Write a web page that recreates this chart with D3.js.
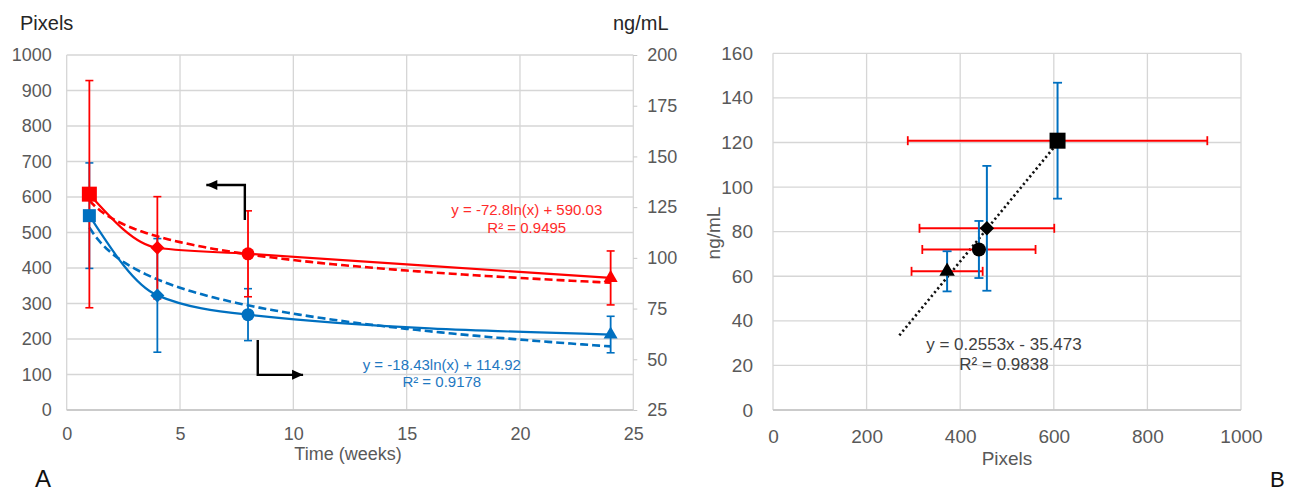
<!DOCTYPE html>
<html>
<head>
<meta charset="utf-8">
<script src="https://cdn.jsdelivr.net/npm/d3@7/dist/d3.min.js"></script>
<style>
  html, body { margin: 0; padding: 0; background: #fff; }
  svg { display: block; font-family: "Liberation Sans", Arial, sans-serif; }
</style>
</head>
<body>
<svg id="chart" width="1293" height="494"></svg>
<script>
// ---------------- DATA ----------------
const weeks = [1, 4, 8, 24];
const pixelsMean = [608, 457, 440, 372];
const pixelsSD = [320, 144, 121, 76];
const ngMean = [120.8, 81.5, 72, 62.2];
const ngSD = [26, 28, 12.8, 9];
const markerShapes = ["square", "diamond", "circle", "triangle"];

const weekTicks = [0, 5, 10, 15, 20, 25];
const pixelTicksA = [0, 100, 200, 300, 400, 500, 600, 700, 800, 900, 1000];
const ngTicksA = [25, 50, 75, 100, 125, 150, 175, 200];
const pixelTicksB = [0, 200, 400, 600, 800, 1000];
const ngTicksB = [0, 20, 40, 60, 80, 100, 120, 140, 160];

// trendline coefficients as printed on the chart
const pixelsLogFit = [-72.8, 590.03];   // y = a ln(x) + b (left axis)
const ngLogFit = [-18.43, 114.92];      // y = a ln(x) + b (right axis)
const linFit = [0.2553, -35.473];       // y = m x + c (panel B)
const linFitRange = [270, 608];

const labelsA = { left: "Pixels", right: "ng/mL", x: "Time (weeks)", panel: "A" };
const labelsB = { y: "ng/mL", x: "Pixels", panel: "B" };
const eqRed = ["y = -72.8ln(x) + 590.03", "R\u00b2 = 0.9495"];
const eqBlue = ["y = -18.43ln(x) + 114.92", "R\u00b2 = 0.9178"];
const eqB = ["y = 0.2553x - 35.473", "R\u00b2 = 0.9838"];

// ---------------- STYLE ----------------
const RED = "#ff0000", BLUE = "#0070c0";
const GRID = "#d6d6d6", TICKTXT = "#595959", TITLE = "#262626";
const fmt = d3.format("d");

const svg = d3.select("#chart");

function marker(g, shape, x, y, size, color) {
  let path, rot = 0;
  if (shape === "square") path = d3.symbol(d3.symbolSquare, size * size)();
  else if (shape === "diamond") { path = d3.symbol(d3.symbolSquare, (size / Math.SQRT2) ** 2)(); rot = 45; }
  else if (shape === "circle") path = d3.symbol(d3.symbolCircle, Math.PI * (size / 2) ** 2)();
  else path = d3.symbol(d3.symbolTriangle, Math.sqrt(3) / 4 * size * size)();
  g.append("path").attr("d", path)
    .attr("transform", `translate(${x},${y}) rotate(${rot})`)
    .attr("fill", color);
}

// ================= PANEL A =================
const xA = d3.scaleLinear([0, 25], [66.7, 633.3]);
const yA = d3.scaleLinear([0, 1000], [410, 55]);
const yA2 = d3.scaleLinear([25, 200], [410, 55]);
const gA = svg.append("g");

// gridlines
gA.append("g").selectAll("line").data(pixelTicksA).join("line")
  .attr("x1", xA(0)).attr("x2", xA(25))
  .attr("y1", d => yA(d)).attr("y2", d => yA(d))
  .attr("stroke", GRID).attr("stroke-width", 1.3);
gA.append("g").selectAll("line").data(weekTicks).join("line")
  .attr("x1", d => xA(d)).attr("x2", d => xA(d))
  .attr("y1", yA(0)).attr("y2", yA(1000))
  .attr("stroke", GRID).attr("stroke-width", 1.3);
gA.append("line").attr("x1", xA(0)).attr("x2", xA(25)).attr("y1", yA(0)).attr("y2", yA(0))
  .attr("stroke", "#c4c4c4").attr("stroke-width", 1.5);

// axes
const axL = d3.axisLeft(yA).tickValues(pixelTicksA).tickFormat(fmt).tickSize(0).tickPadding(15);
const axR = d3.axisRight(yA2).tickValues(ngTicksA).tickFormat(fmt).tickSize(4).tickPadding(10);
const axB = d3.axisBottom(xA).tickValues(weekTicks).tickFormat(fmt).tickSize(0).tickPadding(17);
function styleAxis(sel, fs) {
  sel.select(".domain").remove();
  sel.selectAll("text").attr("fill", TICKTXT).style("font-size", fs + "px")
    .style("font-family", '"Liberation Sans", Arial, sans-serif');
  sel.selectAll("line").attr("stroke", "#c8c8c8");
}
gA.append("g").attr("transform", `translate(${xA(0)},0)`).call(axL).call(styleAxis, 18);
gA.append("g").attr("transform", `translate(${xA(25)},0)`).call(axR).call(styleAxis, 18);
gA.append("g").attr("transform", `translate(0,${yA(0)})`).call(axB).call(styleAxis, 18);

// titles
gA.append("text").attr("x", 20).attr("y", 30).text(labelsA.left)
  .attr("fill", TITLE).style("font-size", "20px");
gA.append("text").attr("x", 613).attr("y", 30).text(labelsA.right)
  .attr("fill", TITLE).style("font-size", "20px");
gA.append("text").attr("x", (xA(0) + xA(25)) / 2 - 2).attr("y", 460).attr("text-anchor", "middle")
  .text(labelsA.x).attr("fill", TICKTXT).style("font-size", "18px");
gA.append("text").attr("x", 35).attr("y", 487).text(labelsA.panel)
  .attr("fill", "#111").style("font-size", "24px");

// trend (dashed) lines
const tSamples = d3.range(1, 24.001, 0.25);
gA.append("path")
  .attr("d", d3.line().x(t => xA(t)).y(t => yA(pixelsLogFit[0] * Math.log(t) + pixelsLogFit[1]))(tSamples))
  .attr("fill", "none").attr("stroke", RED).attr("stroke-width", 2.6).attr("stroke-dasharray", "8,4");
gA.append("path")
  .attr("d", d3.line().x(t => xA(t)).y(t => yA2(ngLogFit[0] * Math.log(t) + ngLogFit[1]))(tSamples))
  .attr("fill", "none").attr("stroke", BLUE).attr("stroke-width", 2.6).attr("stroke-dasharray", "8,4");

const seriesA = [
  { means: pixelsMean, sds: pixelsSD, scale: yA, color: RED, sizes: [15, 14, 13, 14] },
  { means: ngMean, sds: ngSD, scale: yA2, color: BLUE, sizes: [13, 14, 13, 14] }
];
const gErr = gA.append("g"), gLines = gA.append("g"), gMarks = gA.append("g");
// blue drawn first, red on top (as in the reference)
seriesA.slice().reverse().forEach(s => {
  weeks.forEach((w, i) => {
    const x = xA(w), y1 = s.scale(s.means[i] + s.sds[i]), y2 = s.scale(s.means[i] - s.sds[i]);
    gErr.append("line").attr("x1", x).attr("x2", x).attr("y1", y1).attr("y2", y2)
      .attr("stroke", s.color).attr("stroke-width", 1.8);
    [y1, y2].forEach(yy => gErr.append("line").attr("x1", x - 4).attr("x2", x + 4).attr("y1", yy).attr("y2", yy)
      .attr("stroke", s.color).attr("stroke-width", 1.6));
  });
  gLines.append("path")
    .attr("d", d3.line().x((d, i) => xA(weeks[i])).y(d => s.scale(d)).curve(d3.curveMonotoneX)(s.means))
    .attr("fill", "none").attr("stroke", s.color).attr("stroke-width", 2.2);
  weeks.forEach((w, i) => marker(gMarks, markerShapes[i], xA(w), s.scale(s.means[i]), s.sizes[i], s.color));
});

// arrows (in data coordinates)
function arrow(pts, dir) {
  const p = pts.map(d => [xA(d[0]), yA(d[1])]);
  gA.append("path").attr("d", d3.line()(p)).attr("fill", "none").attr("stroke", "#000").attr("stroke-width", 2.4);
  const [tx, ty] = p[p.length - 1];
  const hl = 11, hw = 5;
  const head = dir < 0
    ? [[tx, ty], [tx + hl, ty - hw], [tx + hl, ty + hw]]
    : [[tx, ty], [tx - hl, ty - hw], [tx - hl, ty + hw]];
  gA.append("path").attr("d", d3.line()(head) + "Z").attr("fill", "#000");
}
arrow([[7.86, 535], [7.86, 634], [6.16, 634]], -1);
arrow([[8.43, 197], [8.43, 99], [10.43, 99]], 1);

// equation labels
function eq(lines, cx, baselines, color, fs) {
  lines.forEach((t, i) => gA.append("text").attr("x", cx).attr("y", baselines[i])
    .attr("text-anchor", "middle").attr("fill", color).style("font-size", fs + "px").text(t));
}
eq(eqRed, xA(20.3), [yA(548), yA(498)], "#ff2b2b", 15);
eq(eqBlue, xA(16.55), [yA(113), yA(64)], "#1f78c1", 15);

// ================= PANEL B =================
const xB = d3.scaleLinear([0, 1000], [773, 1241]);
const yB = d3.scaleLinear([0, 160], [410, 53.3]);
const gB = svg.append("g");

gB.append("g").selectAll("line").data(ngTicksB).join("line")
  .attr("x1", xB(0)).attr("x2", xB(1000))
  .attr("y1", d => yB(d)).attr("y2", d => yB(d))
  .attr("stroke", GRID).attr("stroke-width", 1.3);
gB.append("g").selectAll("line").data(pixelTicksB).join("line")
  .attr("x1", d => xB(d)).attr("x2", d => xB(d))
  .attr("y1", yB(0)).attr("y2", yB(160))
  .attr("stroke", GRID).attr("stroke-width", 1.3);
gB.append("line").attr("x1", xB(0)).attr("x2", xB(1000)).attr("y1", yB(0)).attr("y2", yB(0))
  .attr("stroke", "#c4c4c4").attr("stroke-width", 1.5);

gB.append("g").attr("transform", `translate(${xB(0)},0)`)
  .call(d3.axisLeft(yB).tickValues(ngTicksB).tickFormat(fmt).tickSize(0).tickPadding(20)).call(styleAxis, 19);
gB.append("g").attr("transform", `translate(0,${yB(0)})`)
  .call(d3.axisBottom(xB).tickValues(pixelTicksB).tickFormat(fmt).tickSize(0).tickPadding(20)).call(styleAxis, 19);

gB.append("text").attr("transform", `translate(720,233) rotate(-90)`).attr("text-anchor", "middle")
  .text(labelsB.y).attr("fill", TICKTXT).style("font-size", "19px");
gB.append("text").attr("x", (xB(0) + xB(1000)) / 2).attr("y", 465).attr("text-anchor", "middle")
  .text(labelsB.x).attr("fill", TICKTXT).style("font-size", "19px");
gB.append("text").attr("x", 1270).attr("y", 487).text(labelsB.panel)
  .attr("fill", "#111").style("font-size", "22px");

// trend line (dotted)
gB.append("line")
  .attr("x1", xB(linFitRange[0])).attr("y1", yB(linFit[0] * linFitRange[0] + linFit[1]))
  .attr("x2", xB(linFitRange[1])).attr("y2", yB(linFit[0] * linFitRange[1] + linFit[1]))
  .attr("stroke", "#111").attr("stroke-width", 2.6).attr("stroke-dasharray", "2.2,2.8");

// error bars
pixelsMean.forEach((px, i) => {
  const y = yB(ngMean[i]);
  const xl = xB(px - pixelsSD[i]), xr = xB(px + pixelsSD[i]);
  gB.append("line").attr("x1", xl).attr("x2", xr).attr("y1", y).attr("y2", y)
    .attr("stroke", RED).attr("stroke-width", 2);
  [xl, xr].forEach(xx => gB.append("line").attr("x1", xx).attr("x2", xx).attr("y1", y - 4.5).attr("y2", y + 4.5)
    .attr("stroke", RED).attr("stroke-width", 1.8));
});
pixelsMean.forEach((px, i) => {
  const x = xB(px);
  const yt = yB(ngMean[i] + ngSD[i]), yb = yB(ngMean[i] - ngSD[i]);
  gB.append("line").attr("x1", x).attr("x2", x).attr("y1", yt).attr("y2", yb)
    .attr("stroke", BLUE).attr("stroke-width", 2);
  [yt, yb].forEach(yy => gB.append("line").attr("x1", x - 4.5).attr("x2", x + 4.5).attr("y1", yy).attr("y2", yy)
    .attr("stroke", BLUE).attr("stroke-width", 1.8));
});
const sizesB = [16, 14.5, 14, 15.5];
pixelsMean.forEach((px, i) => marker(gB, markerShapes[i], xB(px), yB(ngMean[i]), sizesB[i], "#000"));

// equation
gB.append("text").attr("x", 1004).attr("y", 350).attr("text-anchor", "middle")
  .attr("fill", "#404040").style("font-size", "17px").text(eqB[0]);
gB.append("text").attr("x", 1004).attr("y", 370).attr("text-anchor", "middle")
  .attr("fill", "#404040").style("font-size", "17px").text(eqB[1]);
</script>
</body>
</html>
